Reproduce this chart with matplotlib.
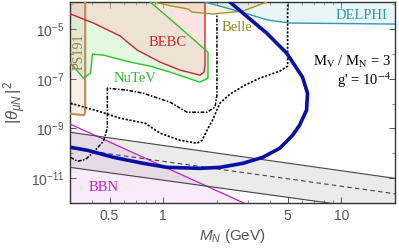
import matplotlib
matplotlib.use('Agg')
import matplotlib.pyplot as plt
from matplotlib.ticker import FixedLocator, NullFormatter

plt.rcParams['font.family'] = ['Liberation Sans', 'DejaVu Sans']
plt.rcParams['mathtext.fontset'] = 'custom'
plt.rcParams['mathtext.rm'] = 'Liberation Sans'
plt.rcParams['mathtext.it'] = 'Liberation Sans:italic'
plt.rcParams['mathtext.bf'] = 'Liberation Sans:bold'

# ---------------- data (M_N in GeV, |theta_muN|^2) ----------------
x_range = (0.3, 20.0)
y_range = (1e-12, 1.23e-4)

x_ticks = [0.5, 1, 5, 10]
x_ticklabels = ['0.5', '1', '5', '10']
y_ticks = [1e-11, 1e-9, 1e-7, 1e-5]
y_ticklabels = [r'$10^{-11}$', r'$10^{-9}$', r'$10^{-7}$', r'$10^{-5}$']

ps191_m = [0.30, 0.365, 0.365, 0.358, 0.30]
ps191_u = [1.23e-4, 1.23e-4, 4.47e-9, 3.39e-9, 3.98e-9]

bebc_m = [0.302, 0.406, 0.575, 0.629, 0.716, 0.962, 1.245, 1.609, 1.695, 1.717, 1.717]
bebc_u = [4.03e-5, 1.75e-5, 5.22e-6, 2.99e-6, 1.42e-6, 4.67e-7, 2.22e-7, 1.40e-7,
          1.85e-7, 3.53e-7, 1.23e-4]

nutev_m = [0.302, 0.357, 0.391, 0.401, 0.462, 0.654, 0.846, 1.094, 1.327, 1.609,
           1.784, 1.784, 1.609, 1.094, 0.846]
nutev_u = [4.26e-7, 1.06e-7, 1.68e-7, 9.82e-7, 8.95e-7, 4.67e-7, 3.22e-7, 1.85e-7,
           1.16e-7, 7.30e-8, 1.06e-7, 1.18e-6, 2.26e-6, 2.53e-5, 1.23e-4]

belle_m = [0.879, 1.123, 1.379, 1.452, 1.902, 2.799, 3.811]
belle_u = [1.23e-4, 8.45e-5, 6.40e-5, 4.84e-5, 4.03e-5, 5.32e-5, 1.23e-4]

delphi_m = [1.717, 2.872, 3.86, 5.12, 20.0]
delphi_u = [1.23e-4, 4.42e-5, 2.31e-5, 1.75e-5, 1.59e-5]

dashdot_m = [0.302, 0.331, 0.367, 0.406, 0.462, 0.486, 0.486, 0.629, 0.773, 1.094,
             1.361, 1.762, 1.952, 2.003, 2.003]
dashdot_u = [6.90e-11, 4.75e-11, 5.73e-11, 1.10e-10, 3.05e-10, 1.02e-9, 4.18e-8,
             3.47e-8, 2.62e-8, 1.14e-8, 4.50e-9, 4.50e-9, 7.16e-9, 2.18e-8, 4.03e-5]

dotted_m = [0.302, 0.434, 0.575, 0.793, 0.962, 1.245, 1.549, 1.652, 1.762, 1.902,
            2.082, 2.368, 2.872, 3.484, 4.505, 4.993, 4.993]
dotted_u = [1.04e-8, 4.94e-9, 2.58e-9, 1.62e-9, 6.40e-10, 3.34e-10, 2.53e-10,
            3.34e-10, 8.45e-10, 2.35e-9, 1.04e-8, 2.39e-8, 5.52e-8, 1.06e-7,
            2.02e-7, 3.22e-7, 1.23e-4]

model_m = [0.302, 0.376, 0.526, 0.773, 1.053, 1.609, 2.082, 2.799, 3.620, 4.505,
           5.324, 5.827, 6.375, 6.458, 6.055, 4.929, 3.811, 2.799, 2.368]
model_u = [1.75e-10, 1.32e-10, 6.90e-11, 3.95e-11, 2.72e-11, 2.48e-11, 2.72e-11,
           3.95e-11, 6.90e-11, 1.59e-10, 5.32e-10, 1.35e-9, 5.42e-9, 2.62e-8,
           1.16e-7, 1.08e-6, 6.90e-6, 4.42e-5, 1.23e-4]

band_m = [0.3, 20.0]
band_upper = [7.03e-10, 9.82e-12]
band_lower = [2.72e-11, 4.3e-13]
band_mid = [1.59e-10, 2.35e-12]

bbn_m = [0.302, 3.0]
bbn_u = [1.48e-9, 8.3e-13]

# ---------------- figure ----------------
fig = plt.figure(figsize=(3.99, 2.50), dpi=100)
ax = fig.add_axes([70/399, 1-203/250, 325/399, 201/250])
ax.set_xscale('log')
ax.set_yscale('log')

# BBN
ax.fill_between(bbn_m, bbn_u, 1e-14, color='#d040d0', alpha=0.10, lw=0, zorder=1)
ax.plot(bbn_m, bbn_u, color='#c51fc5', lw=0.9, zorder=4)

# seesaw band
ax.fill_between(band_m, band_upper, band_lower, color='#8a8a8a', alpha=0.17, lw=0, zorder=1)
ax.plot(band_m, band_upper, color='#444444', lw=0.8, zorder=4)
ax.plot(band_m, band_lower, color='#444444', lw=0.8, zorder=4)
ax.plot(band_m, band_mid, color='#444444', lw=0.8, ls=(0, (4, 3)), zorder=4)

# experimental bounds
ax.fill(nutev_m + [0.3], nutev_u + [1.23e-4], color='#e4f8e1', lw=0, zorder=1.5)
ax.fill(bebc_m + [0.3], bebc_u + [1.23e-4], color='#f9cdc9', alpha=0.5, lw=0, zorder=1.6)
ax.fill(belle_m, belle_u, color='#d8c878', alpha=0.25, lw=0, zorder=1.7)
ax.fill(ps191_m, ps191_u, color='#d0a880', alpha=0.18, lw=0, zorder=1.8)
ax.fill(delphi_m + [20.0], delphi_u + [1.23e-4], color='#b0dcec', alpha=0.28, lw=0, zorder=1.8)

ax.plot(ps191_m[1:4] + [ps191_m[4]], ps191_u[1:4] + [ps191_u[4]], color='#bf8f62', lw=1.6, zorder=3)
ax.plot(bebc_m, bebc_u, color='#c8282a', lw=1.0, zorder=3)
ax.plot(nutev_m, nutev_u, color='#2fbf2f', lw=1.0, zorder=3)
ax.plot(belle_m, belle_u, color='#a59526', lw=1.0, zorder=3)
ax.plot(delphi_m, delphi_u, color='#2a9bb3', lw=1.0, zorder=3)

# displaced-vertex sensitivities
ax.plot(dashdot_m, dashdot_u, color='black', lw=1.1, ls=(0, (2.5, 1.0, 1.0, 1.0)), zorder=5)
ax.plot(dotted_m, dotted_u, color='black', lw=1.2, ls=(0, (1.3, 1.0)), zorder=5)

# model curve
ax.plot(model_m, model_u, color='#0a0fa5', lw=2.6, solid_joinstyle='round',
        solid_capstyle='round', zorder=6)

# labels
serif = 'Liberation Serif'
ax.text(1.066, 3.0e-6, 'BEBC', color='#c8282a', fontsize=10.5, family=serif,
        ha='center', va='center', zorder=7)
ax.text(0.698, 1.06e-7, 'NuTeV', color='#2fbf2f', fontsize=10.5, family=serif,
        ha='center', va='center', zorder=7)
ax.text(2.59, 1.2e-5, 'Belle', color='#8f8420', fontsize=10.5, family=serif,
        ha='center', va='center', zorder=7)
ax.text(12.9, 3.67e-5, 'DELPHI', color='#2a9bb3', fontsize=10.5, family=serif,
        ha='center', va='center', zorder=7)
ax.text(0.335, 1.18e-6, 'PS191', color='#a9784c', fontsize=10, family=serif,
        ha='center', va='center', rotation=90, zorder=7)
ax.text(0.462, 4.26e-12, 'BBN', color='#c51fc5', fontsize=10.5, family=serif,
        ha='center', va='center', zorder=7)
ax.text(19.0, 4.67e-7, r'M$_\mathrm{V}$ / M$_\mathrm{N}$ = 3', color='black',
        fontsize=10.5, family=serif, math_fontfamily='stix', ha='right', va='center', zorder=7)
ax.text(19.0, 8.8e-8, r"g' = 10$^{-4}$", color='black',
        fontsize=10.5, family=serif, math_fontfamily='stix', ha='right', va='center', zorder=7)

ax.set_xlim(*x_range)
ax.set_ylim(*y_range)

ax.xaxis.set_major_locator(FixedLocator(x_ticks))
ax.set_xticklabels(x_ticklabels)
ax.xaxis.set_minor_locator(FixedLocator([0.3, 0.4, 0.6, 0.7, 0.8, 0.9, 2, 3, 4, 6, 7, 8, 9, 20]))
ax.xaxis.set_minor_formatter(NullFormatter())
ax.yaxis.set_major_locator(FixedLocator(y_ticks))
ax.set_yticklabels(y_ticklabels)
ax.yaxis.set_minor_locator(FixedLocator([1e-12, 1e-10, 1e-8, 1e-6, 1e-4]))
ax.yaxis.set_minor_formatter(NullFormatter())

ax.tick_params(which='both', direction='in', top=True, right=True, color='#555555',
               labelcolor='#555555', labelsize=10, pad=4)
ax.tick_params(which='major', length=4, width=0.7)
ax.tick_params(which='minor', length=2, width=0.5)
for sp in ax.spines.values():
    sp.set_color('#333333')
    sp.set_linewidth(1.0)

ax.set_xlabel(r'$M_N$ (GeV)', color='#555555', fontsize=11, labelpad=3)
ax.set_ylabel(r'$|\theta_{\mu N}\,|^2$', color='#555555', fontsize=12, labelpad=2)

fig.savefig('out.png', dpi=100)
